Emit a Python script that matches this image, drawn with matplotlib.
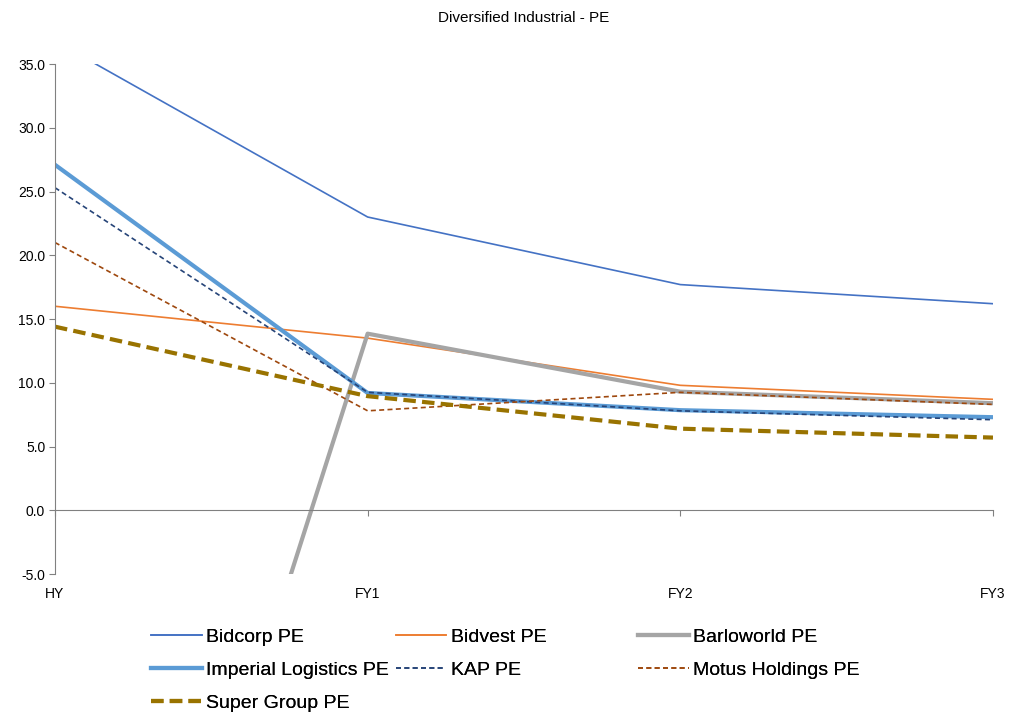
import matplotlib
matplotlib.use("Agg")
import matplotlib.pyplot as plt
import matplotlib.transforms as mtransforms

plt.rcParams['font.family'] = ['Liberation Sans', 'DejaVu Sans']

# categories and series
periods = ['HY', 'FY1', 'FY2', 'FY3']
bidcorp = [36.8, 23.0, 17.7, 16.2]
bidvest = [16.0, 13.5, 9.8, 8.7]
barloworld = [-63.0, 13.85, 9.3, 8.4]
imperial = [27.1, 9.2, 7.85, 7.3]
kap = [25.3, 9.25, 7.8, 7.1]
motus = [21.0, 7.8, 9.25, 8.3]
super_group = [14.4, 8.95, 6.4, 5.7]

y_ticks = [-5, 0, 5, 10, 15, 20, 25, 30, 35]

fig = plt.figure(figsize=(10.12, 7.16), dpi=100)
ax = fig.add_axes([0.0543, 0.1983, 0.9269, 0.7123])

x = list(range(len(periods)))

l_bidcorp, = ax.plot(x, bidcorp, color='#4472C4', lw=1.2, label='Bidcorp PE')
l_bidvest, = ax.plot(x, bidvest, color='#ED7D31', lw=1.2, label='Bidvest PE')
l_barlo, = ax.plot(x, barloworld, color='#A5A5A5', lw=3, label='Barloworld PE')
l_imp, = ax.plot(x, imperial, color='#5B9BD5', lw=3, label='Imperial Logistics PE')
l_kap, = ax.plot(x, kap, color='#264478', lw=1.2, ls=(0, (3, 2)), label='KAP PE')
l_motus, = ax.plot(x, motus, color='#9E480E', lw=1.2, ls=(0, (3, 2)), label='Motus Holdings PE')
l_super, = ax.plot(x, super_group, color='#997300', lw=3, ls=(0, (3, 1.5)), label='Super Group PE')

ax.set_xlim(0, len(periods) - 1)
ax.set_ylim(-5, 35)
ax.set_yticks(y_ticks)
ax.set_yticklabels([f'{v:.1f}' for v in y_ticks], fontsize=10)
ax.tick_params(axis='y', length=4, width=0.8, color='#808080', pad=3)

# category axis sits at zero, labels sit below the plot
for s in ['top', 'right']:
    ax.spines[s].set_visible(False)
ax.spines['left'].set_color('#808080')
ax.spines['bottom'].set_position(('data', 0))
ax.spines['bottom'].set_color('#808080')
ax.set_xticks(x)
ax.tick_params(axis='x', length=4, width=0.8, color='#808080', labelbottom=False)

trans = mtransforms.blended_transform_factory(ax.transData, ax.transAxes)
for xi, lab in zip(x, periods):
    ax.text(xi, -0.025, lab, transform=trans, ha='center', va='top', fontsize=10)

ax.set_title('Diversified Industrial - PE', fontsize=11, pad=30)

# legend laid out in three fixed-width columns like Excel
columns = [([l_bidcorp, l_imp, l_super], 0.1396),
           ([l_bidvest, l_kap], 0.3814),
           ([l_barlo, l_motus], 0.6212)]
for hs, xpos in columns:
    leg = fig.legend(handles=hs, loc='upper left', bbox_to_anchor=(xpos, 0.1364),
                     frameon=False, fontsize=14, handlelength=2.6, borderpad=0,
                     handletextpad=0.22, labelspacing=0.8)
    fig.add_artist(leg)

fig.savefig('out.png', dpi=100)
